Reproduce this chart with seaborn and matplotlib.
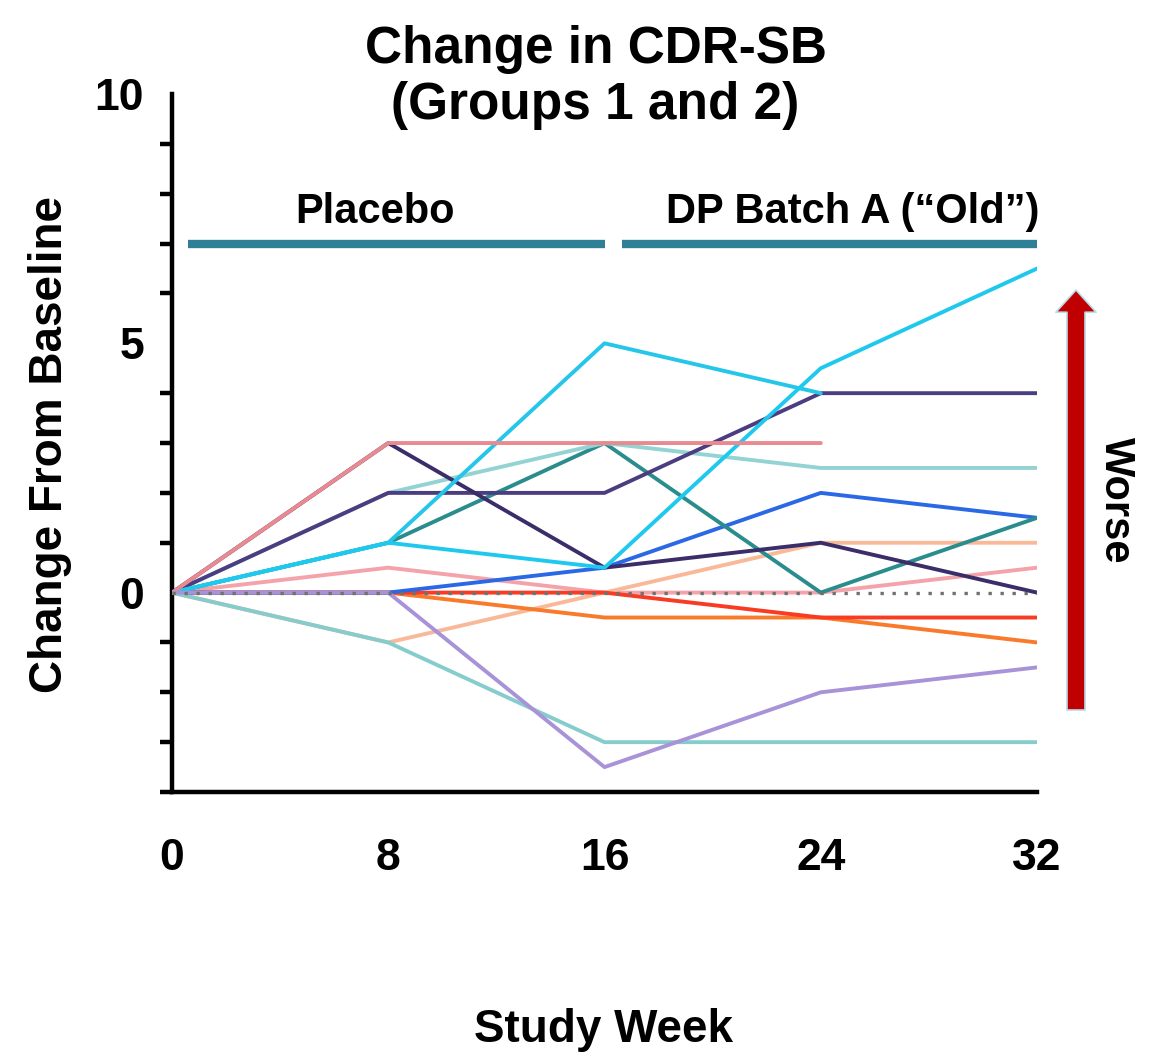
import numpy as np
import pandas as pd
import matplotlib
matplotlib.use("Agg")
import matplotlib.pyplot as plt
import seaborn as sns

# ---------------- data ----------------
weeks = [0, 8, 16, 24, 32]
nan = np.nan
s01 = [0, 3.0, 3.0, 3.0, nan]      # salmon pink
s02 = [0, 3.0, 0.5, 1.0, 0.0]      # dark purple
s03 = [0, 2.0, 2.0, 4.0, 4.0]      # indigo
s04 = [0, 1.0, 5.0, 4.0, nan]      # cyan A
s05 = [0, 1.0, 0.5, 4.5, 6.5]      # cyan B
s06 = [0, 1.0, 3.0, 0.0, 1.5]      # teal
s07 = [0, 2.0, 3.0, 2.5, 2.5]      # light teal
s08 = [0, 0.0, 0.5, 2.0, 1.5]      # blue
s09 = [0, 0.5, 0.0, 0.0, 0.5]      # light pink
s10 = [0, -1.0, 0.0, 1.0, 1.0]     # peach
s11 = [0, -1.0, -3.0, -3.0, -3.0]  # aqua
s12 = [0, 0.0, -3.5, -2.0, -1.5]   # lavender
s13 = [0, 0.0, -0.5, -0.5, -1.0]   # orange
s14 = [0, 0.0, 0.0, -0.5, -0.5]    # red
s15 = [0, 0.0, 0.0, 0.0, 0.0]      # grey dotted

subjects = ["S09", "S10", "S13", "S14", "S08", "S06", "S07", "S11",
            "S03", "S02", "S04", "S05", "S01", "S12"]
series = {"S01": s01, "S02": s02, "S03": s03, "S04": s04, "S05": s05,
          "S06": s06, "S07": s07, "S08": s08, "S09": s09, "S10": s10,
          "S11": s11, "S12": s12, "S13": s13, "S14": s14}
colors = {"S01": "#e98a90", "S02": "#3b2c6a", "S03": "#4b3d80",
          "S04": "#25c6ea", "S05": "#1fc9ee", "S06": "#2a8c8c",
          "S07": "#93d3d3", "S08": "#2a68e6", "S09": "#f4a3aa",
          "S10": "#f9b999", "S11": "#86cccc", "S12": "#a892d8",
          "S13": "#f87a2a", "S14": "#f83b22"}

rows = []
for s in subjects:
    for w, v in zip(weeks, series[s]):
        if not np.isnan(v):
            rows.append({"subject": s, "week": w, "change": v})
df = pd.DataFrame(rows)
df_zero = pd.DataFrame({"week": weeks, "change": s15})

# ---------------- style ----------------
sns.set_theme(style="white")
plt.rcParams["font.family"] = ["Liberation Sans", "DejaVu Sans"]
plt.rcParams["font.weight"] = "bold"
plt.rcParams["text.color"] = "black"
plt.rcParams["axes.labelcolor"] = "black"
plt.rcParams["xtick.color"] = "black"
plt.rcParams["ytick.color"] = "black"

fig = plt.figure(figsize=(11.52, 10.59), dpi=100)
ax = fig.add_axes([0.1493, 0.2521, 0.7509, 0.6591])

sns.lineplot(data=df, x="week", y="change", hue="subject", hue_order=subjects,
             palette=colors, linewidth=2.8, estimator=None, legend=False,
             ax=ax, zorder=3)
sns.lineplot(data=df_zero, x="week", y="change", color="#707070",
             linewidth=2.4, linestyle=(0, (1, 2.6)), ax=ax, zorder=5)

ax.set_xlim(0, 32)
ax.set_ylim(-4, 10)
ax.set_xticks(weeks)
ax.set_xticklabels([str(w) for w in weeks])
ax.set_yticks([0, 5, 10])
ax.set_yticks(range(-4, 11), minor=True)
sns.despine(ax=ax)
for sp in ["left", "bottom"]:
    ax.spines[sp].set_linewidth(3.2)
    ax.spines[sp].set_color("black")
ax.tick_params(axis="both", which="major", direction="out", length=16,
               width=3.2, color="black", labelcolor="black", labelsize=32, pad=4)
ax.tick_params(axis="y", which="minor", direction="out", length=9,
               width=3.2, color="black", left=True)
ax.tick_params(axis="x", which="major", pad=17)
for lab in ax.get_xticklabels() + ax.get_yticklabels():
    lab.set_fontweight("bold")

ax.set_xlabel("Study Week", fontsize=33, fontweight="bold", color="black")
ax.set_ylabel("Change From Baseline", fontsize=33, fontweight="bold", color="black")
ax.xaxis.label.set_va("center")
ax.yaxis.label.set_va("center")
ax.xaxis.set_label_coords(0.4994, -0.341)
ax.yaxis.set_label_coords(-0.141, 0.4986)

# treatment period bars
bar_color = "#2f7f96"
ax.hlines(7.0, 0.6, 16.0, colors=bar_color, linewidth=6, clip_on=False)
ax.hlines(7.0, 16.65, 32.0, colors=bar_color, linewidth=6, clip_on=False)
ax.text(7.5, 7.64, "Placebo", ha="center", va="center", fontsize=30,
        fontweight="bold", color="black")
ax.text(25.2, 7.64, "DP Batch A (\u201cOld\u201d)", ha="center", va="center",
        fontsize=30, fontweight="bold", color="black")

# title
fig.text(0.517, 0.927, "Change in CDR-SB\n(Groups 1 and 2)", ha="center",
         va="center", fontsize=37, fontweight="bold", linespacing=1.2,
         color="black")

# worse arrow
ax.annotate("", xy=(1076 / 1152, 1 - 290 / 1059),
            xytext=(1076 / 1152, 1 - 710 / 1059),
            xycoords="figure fraction", textcoords="figure fraction",
            arrowprops=dict(arrowstyle="simple,head_width=29,head_length=16,tail_width=13",
                            mutation_scale=1, fc="#c00000", ec="#b9dde9",
                            lw=1.2, shrinkA=0, shrinkB=0))
fig.text(1116 / 1152, 1 - 500 / 1059, "Worse", rotation=-90, ha="center",
         va="center", fontsize=30, fontweight="bold", color="black")

fig.savefig("out.png", dpi=100)
